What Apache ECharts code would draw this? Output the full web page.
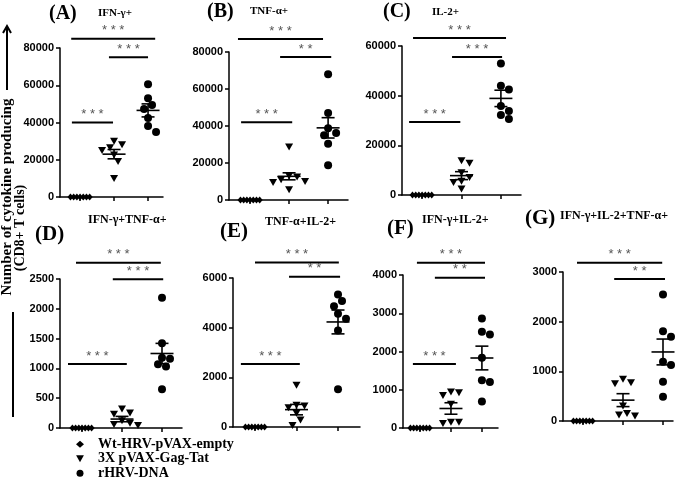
<!DOCTYPE html>
<html><head><meta charset="utf-8">
<script src="https://cdn.jsdelivr.net/npm/echarts@6/dist/echarts.min.js"></script>
<style>html,body{margin:0;padding:0;background:#fff}#c{width:685px;height:491px}</style>
</head><body><div id="c"></div>
<script>
// ---------- data ----------
const groupNames = ['Wt-HRV-pVAX-empty', '3X pVAX-Gag-Tat', 'rHRV-DNA'];
const panelLetters = ['(A)', '(B)', '(C)', '(D)', '(E)', '(F)', '(G)'];
const panelTitles = ['IFN-γ+', 'TNF-α+', 'IL-2+', 'IFN-γ+TNF-α+', 'TNF-α+IL-2+', 'IFN-γ+IL-2+', 'IFN-γ+IL-2+TNF-α+'];
const yMax = [80000, 80000, 60000, 2500, 6000, 4000, 3000];
const yInterval = [20000, 20000, 20000, 500, 2000, 1000, 1000];

const wtA = [0, 0, 0, 0, 0, 0, 0];
const gagA = [30000, 28000, 26500, 25000, 22500, 19000, 10000];
const rhrvA = [60500, 53000, 49400, 47300, 42400, 38100, 34900];
const meanA = [0, 23000, 46500];
const semA = [0, 2500, 3500];
const sigA = [[0.76, 1.97, 40000], [1.85, 3.0, 75000], [0.74, 3.21, 85000]];
const sigLabelA = ['***', '***', '***'];

const wtB = [0, 0, 0, 0, 0, 0, 0];
const gagB = [28600, 13000, 12500, 11000, 10000, 9500, 5500];
const rhrvB = [68000, 47000, 38800, 36200, 35000, 30400, 18800];
const meanB = [0, 12800, 39000];
const semB = [0, 1900, 5500];
const sigB = [[0.77, 2.08, 42000], [1.77, 3.08, 77300], [0.69, 2.87, 87000]];
const sigLabelB = ['***', '**', '***'];

const wtC = [0, 0, 0, 0, 0, 0, 0];
const gagC = [13800, 12800, 9000, 7000, 5500, 5000, 2400];
const rhrvC = [53000, 44000, 42500, 35800, 33800, 32200, 30600];
const meanC = [0, 7800, 38900];
const semC = [0, 1600, 3300];
const sigC = [[0.67, 1.97, 29400], [1.76, 3.03, 55600], [0.77, 3.13, 63200]];
const sigLabelC = ['***', '***', '***'];

const wtD = [0, 0, 0, 0, 0, 0, 0];
const gagD = [320, 250, 230, 120, 80, 60, 40];
const rhrvD = [2187, 1420, 1180, 1160, 1070, 1030, 650];
const meanD = [0, 150, 1250];
const semD = [0, 45, 170];
const sigD = [[0.65, 2.12, 1074], [1.77, 3.03, 2495], [0.85, 2.97, 2773]];
const sigLabelD = ['***', '***', '***'];

const wtE = [0, 0, 0, 0, 0, 0, 0];
const gagE = [1680, 880, 850, 780, 550, 280, 60];
const rhrvE = [5340, 5070, 4860, 4560, 4360, 3890, 1520];
const meanE = [0, 700, 4230];
const semE = [0, 210, 480];
const sigE = [[0.66, 2.08, 2537], [1.82, 3.05, 6050], [1.0, 3.02, 6620]];
const sigLabelE = ['***', '**', '***'];

const wtF = [0, 0, 0, 0, 0, 0, 0];
const gagF = [940, 920, 850, 620, 150, 150, 120];
const rhrvF = [2863, 2515, 2445, 1834, 1248, 1205, 690];
const meanF = [0, 510, 1830];
const semF = [0, 150, 310];
const sigF = [[0.77, 2.16, 1673], [1.48, 3.1, 3930], [0.9, 3.1, 4320]];
const sigLabelF = ['***', '**', '***'];

const wtG = [0, 0, 0, 0, 0, 0, 0];
const gagG = [840, 770, 750, 300, 150, 120, 100];
const rhrvG = [2546, 1809, 1695, 1193, 1126, 791, 489];
const meanG = [0, 420, 1390];
const semG = [0, 130, 260];
const sigG = [[1.78, 3.05, 2859], [0.85, 2.98, 3187]];
const sigLabelG = ['**', '***'];

const panelPoints = [[wtA, gagA, rhrvA], [wtB, gagB, rhrvB], [wtC, gagC, rhrvC], [wtD, gagD, rhrvD], [wtE, gagE, rhrvE], [wtF, gagF, rhrvF], [wtG, gagG, rhrvG]];
const panelMean = [meanA, meanB, meanC, meanD, meanE, meanF, meanG];
const panelSem = [semA, semB, semC, semD, semE, semF, semG];
const panelSig = [sigA, sigB, sigC, sigD, sigE, sigF, sigG];
const panelSigLabel = [sigLabelA, sigLabelB, sigLabelC, sigLabelD, sigLabelE, sigLabelF, sigLabelG];

// ---------- layout ----------
const layout = [
  {left: 60, top: 48, width: 103, height: 149, xmin: 0.41, xmax: 3.44, lx: 49, ly: 14, tx: 98, ty: 13, lf: 20, tf: 11},
  {left: 229, top: 52, width: 119, height: 148, xmin: 0.46, xmax: 3.51, lx: 207, ly: 12, tx: 250, ty: 11, lf: 20, tf: 11},
  {left: 402, top: 46, width: 119, height: 149, xmin: 0.49, xmax: 3.51, lx: 383, ly: 12, tx: 432, ty: 12, lf: 20, tf: 11},
  {left: 60, top: 279, width: 122, height: 149, xmin: 0.45, xmax: 3.5, lx: 35, ly: 235, tx: 88, ty: 220, lf: 21, tf: 12},
  {left: 233, top: 278, width: 127, height: 149, xmin: 0.47, xmax: 3.53, lx: 220, ly: 232, tx: 265, ty: 222, lf: 21, tf: 12},
  {left: 403, top: 275, width: 95, height: 153, xmin: 0.45, xmax: 3.52, lx: 387, ly: 229, tx: 422, ty: 220, lf: 21, tf: 12},
  {left: 563, top: 272, width: 110, height: 149, xmin: 0.5, xmax: 3.25, lx: 525, ly: 219, tx: 560, ty: 216, lf: 21, tf: 12}
];

const SERIF = '"Liberation Serif", "Times New Roman", serif';
const SANS = '"Liberation Sans", Arial, sans-serif';

// beeswarm placement in pixel space
function swarm(ys, minDist, step) {
  const order = ys.map((v, i) => i).sort((a, b) => ys[a] - ys[b]);
  const placed = [];
  const off = new Array(ys.length).fill(0);
  for (const i of order) {
    for (let k = 0; k < 60; k++) {
      const o = (k % 2 ? 1 : -1) * Math.ceil(k / 2) * step;
      if (placed.every(p => Math.hypot(p.x - o, p.y - ys[i]) >= minDist)) {
        off[i] = o; placed.push({x: o, y: ys[i]}); break;
      }
    }
  }
  return off;
}
const minDist = [3.2, 7.5, 7.5];
const stepPx = [3.2, 4, 4];

function shapeFor(gi, x, y) {
  if (gi === 0) return {type: 'polygon', shape: {points: [[x, y - 3.5], [x + 3, y], [x, y + 3.5], [x - 3, y]]}, style: {fill: '#000'}};
  if (gi === 1) return {type: 'polygon', shape: {points: [[x - 4, y - 3.5], [x + 4, y - 3.5], [x, y + 3.5]]}, style: {fill: '#000'}};
  return {type: 'circle', shape: {cx: x, cy: y, r: 4}, style: {fill: '#000'}};
}

const grids = [], xAxes = [], yAxes = [], series = [], graphics = [];
layout.forEach((L, pi) => {
  grids.push({left: L.left, top: L.top, width: L.width, height: L.height, containLabel: false});
  xAxes.push({
    gridIndex: pi, type: 'value', min: L.xmin, max: L.xmax,
    axisLine: {show: true, onZero: false, lineStyle: {color: '#000', width: 1.5}},
    axisTick: {show: true, customValues: [1, 2, 3], length: 4, lineStyle: {color: '#000', width: 1.5}},
    axisLabel: {show: false}, splitLine: {show: false}
  });
  yAxes.push({
    gridIndex: pi, type: 'value', min: 0, max: yMax[pi], interval: yInterval[pi],
    axisLine: {show: true, onZero: false, lineStyle: {color: '#000', width: 1.5}},
    axisTick: {show: true, length: 4, lineStyle: {color: '#000', width: 1.5}},
    axisLabel: {color: '#000', fontWeight: 'bold', fontSize: 11, fontFamily: SANS, margin: 6, formatter: v => String(v)},
    splitLine: {show: false}
  });
  // mean +- SEM
  series.push({
    type: 'custom', xAxisIndex: pi, yAxisIndex: pi, silent: true, z: 3,
    data: panelMean[pi].map((m, gi) => [gi + 1, m, panelSem[pi][gi]]),
    encode: {x: 0, y: 1},
    renderItem: (params, api) => {
      const gx = api.value(0), m = api.value(1), s = api.value(2);
      const pm = api.coord([gx, m]), pt = api.coord([gx, m + s]), pb = api.coord([gx, m - s]);
      const st = {stroke: '#000', lineWidth: 1.6};
      return {type: 'group', children: [
        {type: 'line', shape: {x1: pm[0] - 11.5, y1: pm[1], x2: pm[0] + 11.5, y2: pm[1]}, style: st},
        {type: 'line', shape: {x1: pm[0], y1: pt[1], x2: pm[0], y2: pb[1]}, style: st},
        {type: 'line', shape: {x1: pm[0] - 6.5, y1: pt[1], x2: pm[0] + 6.5, y2: pt[1]}, style: st},
        {type: 'line', shape: {x1: pm[0] - 6.5, y1: pb[1], x2: pm[0] + 6.5, y2: pb[1]}, style: st}
      ]};
    }
  });
  // points
  panelPoints[pi].forEach((vals, gi) => {
    series.push({
      type: 'custom', name: groupNames[gi], xAxisIndex: pi, yAxisIndex: pi, z: 4,
      itemStyle: {color: '#000'},
      data: vals.map(v => [gi + 1, v]),
      encode: {x: 0, y: 1},
      renderItem: (params, api) => {
        const ys = vals.map(v => api.coord([gi + 1, v])[1]);
        const offs = swarm(ys, minDist[gi], stepPx[gi]);
        const p = api.coord([api.value(0), api.value(1)]);
        return shapeFor(gi, p[0] + offs[params.dataIndex], p[1]);
      }
    });
  });
  // significance bars
  const labels = panelSigLabel[pi];
  series.push({
    type: 'custom', xAxisIndex: pi, yAxisIndex: pi, silent: true, z: 5,
    data: panelSig[pi].map(s => s.slice()),
    encode: {x: [0, 1], y: 2},
    renderItem: (params, api) => {
      const a = api.coord([api.value(0), api.value(2)]);
      const b = api.coord([api.value(1), api.value(2)]);
      const lab = labels[params.dataIndex].split('').join(' ');
      return {type: 'group', children: [
        {type: 'line', shape: {x1: a[0], y1: a[1], x2: b[0], y2: b[1]}, style: {stroke: '#000', lineWidth: 2}},
        {type: 'text', style: {x: (a[0] + b[0]) / 2, y: a[1] - 8, text: lab, fill: '#555', font: '13px ' + SANS, textAlign: 'center', textVerticalAlign: 'middle'}}
      ]};
    }
  });
  graphics.push({type: 'text', style: {x: L.lx, y: L.ly, text: panelLetters[pi], fill: '#000', font: 'bold ' + L.lf + 'px ' + SERIF, textAlign: 'left', textVerticalAlign: 'middle'}});
  graphics.push({type: 'text', style: {x: L.tx, y: L.ty, text: panelTitles[pi], fill: '#000', font: 'bold ' + L.tf + 'px ' + SERIF, textAlign: 'left', textVerticalAlign: 'middle'}});
});

// y-axis caption, arrow and bar
graphics.push({type: 'text', x: 7, y: 197, rotation: Math.PI / 2, style: {x: 0, y: 0, text: 'Number of cytokine producing', fill: '#000', font: 'bold 15px ' + SERIF, textAlign: 'center', textVerticalAlign: 'middle'}});
graphics.push({type: 'text', x: 20, y: 228, rotation: Math.PI / 2, style: {x: 0, y: 0, text: '(CD8+ T cells)', fill: '#000', font: 'bold 14px ' + SERIF, textAlign: 'center', textVerticalAlign: 'middle'}});
graphics.push({type: 'line', shape: {x1: 7, y1: 90, x2: 7, y2: 27}, style: {stroke: '#000', lineWidth: 2}});
graphics.push({type: 'polyline', shape: {points: [[3, 33], [7, 26], [11, 33]]}, style: {stroke: '#000', lineWidth: 2, fill: null}});
graphics.push({type: 'line', shape: {x1: 13, y1: 312, x2: 13, y2: 417}, style: {stroke: '#000', lineWidth: 2}});

const chart = echarts.init(document.getElementById('c'), null, {renderer: 'canvas'});
chart.setOption({
  animation: false,
  backgroundColor: '#fff',
  grid: grids, xAxis: xAxes, yAxis: yAxes, series: series,
  legend: {
    orient: 'vertical', left: 71, top: 432, itemWidth: 8, itemHeight: 7, itemGap: 0, selectedMode: false,
    textStyle: {fontFamily: SERIF, fontWeight: 'bold', fontSize: 14, color: '#000', lineHeight: 14.5, padding: [0, 0, 0, 9]},
    data: [
      {name: groupNames[0], icon: 'diamond'},
      {name: groupNames[1], icon: 'path://M0,0L10,0L5,9Z'},
      {name: groupNames[2], icon: 'circle'}
    ]
  },
  graphic: graphics
});
</script></body></html>
